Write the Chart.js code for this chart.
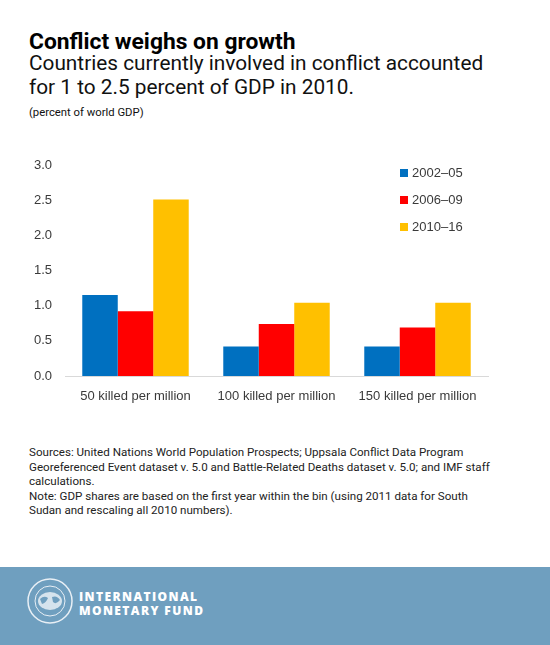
<!DOCTYPE html>
<html>
<head>
<meta charset="utf-8">
<script src="https://cdn.jsdelivr.net/npm/chart.js@4"></script>
<style>
  body { margin: 0; width: 550px; height: 645px; background: #fff; position: relative; overflow: hidden; font-family: Roboto, sans-serif; }
  .title { position: absolute; left: 29px; top: 28px; font-size: 22.8px; font-weight: 700; color: #000; }
  .sub { position: absolute; left: 29px; top: 52px; font-size: 20.8px; font-weight: 400; color: #111; line-height: 23.5px; width: 520px; }
  .unit { position: absolute; left: 29px; top: 106px; font-size: 11.3px; color: #111; }
  #wrap { position: absolute; left: 0; top: 150px; width: 550px; height: 260px; }
  #legend { position: absolute; left: 400px; top: 163px; font-family: "Liberation Sans", Arial, sans-serif; font-size: 13px; color: #3a3a3a; }
  #legend div { height: 27px; line-height: 20px; }
  #legend span { display: inline-block; width: 8px; height: 8px; margin-right: 4px; vertical-align: 0px; }
  .notes { position: absolute; left: 29px; top: 445px; font-size: 11.6px; line-height: 14.6px; color: #222; width: 466px; }
  .footer { position: absolute; left: 0; top: 567px; width: 550px; height: 78px; background: #6f9fbf; }
  .imf { position: absolute; left: 79px; top: 23px; color: #fff; font-family: "Open Sans", sans-serif; font-weight: 800; font-size: 12px; letter-spacing: 1.4px; line-height: 14px; }
  .logo { position: absolute; left: 26px; top: 10px; }
</style>
</head>
<body>
<div class="title">Conflict weighs on growth</div>
<div class="sub">Countries currently involved in conflict accounted<br>for 1 to 2.5 percent of GDP in 2010.</div>
<div class="unit">(percent of world GDP)</div>
<div id="wrap"><canvas id="mycanvas" width="550" height="260"></canvas></div>
<div id="legend"></div>
<div class="notes">Sources: United Nations World Population Prospects; Uppsala Conflict Data Program Georeferenced Event dataset v. 5.0 and Battle-Related Deaths dataset v. 5.0; and IMF staff calculations.<br>Note: GDP shares are based on the first year within the bin (using 2011 data for South Sudan and rescaling all 2010 numbers).</div>
<div class="footer">
  <svg class="logo" width="48" height="48" viewBox="0 0 48 48">
    <circle cx="24" cy="24" r="22" fill="none" stroke="#e8eff5" stroke-width="1.5"/>
    <circle cx="24" cy="24" r="15" fill="none" stroke="#e8eff5" stroke-width="1"/>
    <ellipse cx="24" cy="24" rx="12" ry="9" fill="#e8eff5" opacity="0.85"/>
    <path d="M14 22 Q18 18 22 21 Q20 26 16 27 Z M26 20 Q31 18 34 23 Q30 28 27 25 Z" fill="#6f9fbf"/>
  </svg>
  <div class="imf">INTERNATIONAL<br>MONETARY FUND</div>
</div>
<script>
var categories = ["50 killed per million", "100 killed per million", "150 killed per million"];
var seriesNames = ["2002\u201305", "2006\u201309", "2010\u201316"];
var s2002 = [1.15, 0.42, 0.42];
var s2006 = [0.92, 0.74, 0.69];
var s2010 = [2.51, 1.04, 1.04];
var yTicks = [0, 0.5, 1, 1.5, 2, 2.5, 3];
var colors = ["#0070c0", "#ff0000", "#ffc000"];

var allSeries = [s2002, s2006, s2010];
var datasets = [];
for (var i = 0; i < allSeries.length; i++) {
  datasets.push({
    label: seriesNames[i],
    data: allSeries[i],
    backgroundColor: colors[i],
    borderWidth: 0,
    categoryPercentage: 0.755,
    barPercentage: 1.0
  });
}

var leg = document.getElementById("legend");
for (var j = 0; j < seriesNames.length; j++) {
  var d = document.createElement("div");
  d.innerHTML = '<span style="background:' + colors[j] + '"></span>' + seriesNames[j];
  leg.appendChild(d);
}

var font = { family: "'Liberation Sans', Arial, sans-serif", size: 13 };

new Chart(document.getElementById("mycanvas"), {
  type: "bar",
  data: { labels: categories, datasets: datasets },
  options: {
    responsive: false,
    animation: false,
    layout: { padding: { top: 15, right: 62, left: 0, bottom: 0 } },
    plugins: { legend: { display: false }, tooltip: { enabled: false } },
    scales: {
      x: {
        grid: { display: false, drawTicks: false },
        border: { display: true, color: "#d9d9d9", width: 1 },
        ticks: { color: "#3a3a3a", font: font, padding: 13, maxRotation: 0 },
        afterFit: function (s) { s.height = 34; }
      },
      y: {
        min: 0, max: 3,
        grid: { display: false, drawTicks: false },
        border: { display: false },
        afterBuildTicks: function (s) { s.ticks = yTicks.map(function (v) { return { value: v }; }); },
        ticks: { color: "#3a3a3a", font: font, padding: 13, callback: function (v) { return Number(v).toFixed(1); } },
        afterFit: function (s) { s.width = 65; s.paddingTop = 0; s.paddingBottom = 0; }
      }
    }
  }
});
</script>
</body>
</html>
